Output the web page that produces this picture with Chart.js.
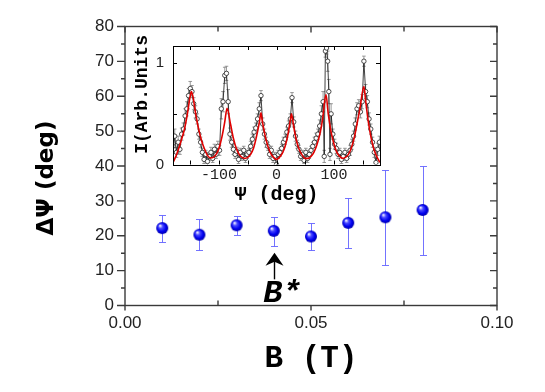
<!DOCTYPE html>
<html><head><meta charset="utf-8">
<script src="https://cdn.jsdelivr.net/npm/chart.js@4/dist/chart.umd.min.js"></script>
<style>
html,body{margin:0;padding:0;background:#fff;}
#wrap{position:relative;width:545px;height:392px;overflow:hidden;}
#wrap canvas{position:absolute;left:0;top:0;}
</style></head><body>
<div id="wrap"><canvas id="main" width="545" height="392"></canvas><canvas id="inset" width="545" height="392"></canvas></div>
<script>
// ---------- main chart data ----------
const fieldB = [0.01,0.02,0.03,0.04,0.05,0.06,0.07,0.08];
const deltaPsi = [22.2,20.3,23.0,21.4,19.8,23.7,25.3,27.4];
const deltaPsiUpper = [26.0,24.7,25.6,25.4,23.6,30.7,38.8,39.9];
const deltaPsiLower = [18.1,15.9,20.1,17.0,15.8,16.4,11.5,14.6];
const mainXTicks = [0,0.05,0.10];
const mainXTickLabels = ['0.00','0.05','0.10'];
const mainXMinor = [0.025,0.075];
const mainYTicks = [0,10,20,30,40,50,60,70,80];
const mainYTickLabels = ['0','10','20','30','40','50','60','70','80'];
const mainYMinor = [5,15,25,35,45,55,65,75];
// B* annotation (data coordinates)
const arrowB = 0.04, arrowFrom = 7.5, arrowTo = 15.1;
const starLabel = 'B*', starB = 0.0423, starY = 1.0;

// ---------- inset data ----------
const psi = [
 -180,-177,-174,-171,-168,-165,-162,-159,-156,-153,
 -150,-147,-144,-141,-138,-135,-132,-129,-126,-123,
 -120,-117,-114,-111,-108,-105,-102,-99,-96,-93,
 -90,-87,-84,-81,-78,-75,-72,-69,-66,-63,
 -60,-57,-54,-51,-48,-45,-42,-39,-36,-33,
 -30,-27,-24,-21,-18,-15,-12,-9,-6,-3,
 0,3,6,9,12,15,18,21,24,27,
 30,33,36,39,42,45,48,51,54,57,
 60,63,66,69,72,75,78,81,83,85,
 87,89,91,93,95,98,101,104,107,110,
 113,116,119,122,125,128,131,134,137,140,
 143,146,149,152,155,158,161,164,167,170,
 173,176,179];
const intensity = [
 0.18,0.28,0.12,0.22,0.15,0.30,0.35,0.48,0.55,0.68,
 0.75,0.72,0.60,0.52,0.45,0.30,0.22,0.12,0.05,0.10,
 0.03,0.08,0.12,0.06,0.15,0.10,0.18,0.14,0.55,0.62,
 0.88,0.90,0.62,0.30,0.22,0.15,0.10,0.13,0.05,0.12,
 0.08,0.14,0.06,0.10,0.12,0.18,0.25,0.32,0.36,0.45,
 0.55,0.68,0.40,0.30,0.22,0.18,0.10,0.14,0.06,0.08,
 0.00,0.10,0.12,0.16,0.22,0.25,0.32,0.38,0.45,0.66,
 0.42,0.28,0.20,0.15,0.08,0.10,0.04,0.12,0.06,0.10,
 0.14,0.18,0.22,0.26,0.30,0.38,0.50,0.62,0.08,1.12,
 1.15,1.02,0.72,0.10,0.50,0.30,0.20,0.16,0.10,0.12,
 0.05,0.08,0.12,0.06,0.10,0.14,0.20,0.28,0.40,0.55,
 0.58,0.52,0.62,1.02,0.72,0.62,0.45,0.35,0.22,0.12,
 0.02,0.15,0.22];
const intensityErr = [
 0.06,0.07,0.05,0.06,0.05,0.06,0.06,0.07,0.07,0.07,
 0.07,0.06,0.06,0.06,0.05,0.05,0.05,0.04,0.04,0.04,
 0.04,0.04,0.05,0.04,0.05,0.04,0.05,0.05,0.10,0.10,
 0.08,0.07,0.12,0.06,0.05,0.05,0.04,0.04,0.04,0.04,
 0.04,0.04,0.04,0.04,0.04,0.05,0.05,0.05,0.05,0.05,
 0.06,0.05,0.06,0.05,0.05,0.04,0.04,0.04,0.04,0.04,
 0.02,0.04,0.04,0.04,0.05,0.05,0.05,0.05,0.05,0.05,
 0.05,0.05,0.04,0.04,0.04,0.04,0.03,0.04,0.04,0.04,
 0.04,0.04,0.05,0.05,0.05,0.06,0.08,0.10,0.06,0.06,
 0.06,0.10,0.12,0.06,0.10,0.05,0.05,0.05,0.04,0.04,
 0.04,0.04,0.04,0.04,0.04,0.05,0.05,0.05,0.06,0.06,
 0.06,0.06,0.07,0.05,0.07,0.06,0.06,0.05,0.05,0.05,
 0.04,0.06,0.06];
const fitPsi = [-180,-175,-170,-165,-160,-155,-150,-148,-145,-140,-135,-130,-125,-120,-115,-110,-105,-100,-95,-90,-86,-80,-75,-70,-65,-60,-55,-50,-45,-40,-35,-30,-27,-25,-20,-15,-10,-5,0,5,10,15,20,25,26,30,35,40,45,50,55,60,65,70,75,80,86,90,95,100,105,110,115,120,125,130,135,140,145,152,155,160,165,170,175,180];
const fitI = [0.02,0.08,0.16,0.25,0.35,0.50,0.68,0.72,0.66,0.48,0.34,0.23,0.15,0.09,0.065,0.07,0.10,0.16,0.27,0.42,0.555,0.40,0.26,0.16,0.10,0.07,0.06,0.07,0.10,0.16,0.27,0.41,0.51,0.44,0.29,0.18,0.11,0.07,0.05,0.07,0.11,0.18,0.30,0.47,0.50,0.37,0.23,0.14,0.09,0.06,0.06,0.08,0.12,0.19,0.29,0.44,0.69,0.50,0.32,0.20,0.12,0.08,0.06,0.07,0.10,0.16,0.26,0.40,0.55,0.77,0.63,0.41,0.25,0.14,0.07,0.02];
const insetXTicks = [-100,0,100];
const insetXTickLabels = ['-100','0','100'];
const insetXMinor = [-150,-50,50,150];
const insetYTicks = [0,1];
const insetYTickLabels = ['0','1'];
const insetYMinor = [0.5];

// ---------- helpers ----------
function sphere(r){
  const s = 2*r+2, c = document.createElement('canvas');
  c.width = c.height = s;
  const g = c.getContext('2d');
  const grd = g.createRadialGradient(s/2-r*0.38, s/2-r*0.42, r*0.08, s/2, s/2, r);
  grd.addColorStop(0, '#f2f2ff');
  grd.addColorStop(0.3, '#4a4aff');
  grd.addColorStop(0.7, '#0000f0');
  grd.addColorStop(1, '#0000aa');
  g.fillStyle = grd;
  g.beginPath(); g.arc(s/2, s/2, r, 0, Math.PI*2); g.fill();
  return c;
}

const mainErrorBars = {
  id: 'mainErrorBars',
  beforeDatasetsDraw(chart){
    const {ctx, scales:{x, y}} = chart;
    ctx.save();
    ctx.strokeStyle = 'rgba(100,100,255,0.9)';
    ctx.lineWidth = 1;
    fieldB.forEach((b, i) => {
      const px = Math.round(x.getPixelForValue(b)) + 0.5;
      const yt = Math.round(y.getPixelForValue(deltaPsiUpper[i])) + 0.5;
      const yb = Math.round(y.getPixelForValue(deltaPsiLower[i])) + 0.5;
      ctx.beginPath();
      ctx.moveTo(px, yt); ctx.lineTo(px, yb);
      ctx.moveTo(px-3.5, yt); ctx.lineTo(px+3.5, yt);
      ctx.moveTo(px-3.5, yb); ctx.lineTo(px+3.5, yb);
      ctx.stroke();
    });
    ctx.restore();
  }
};

const mainFrame = {
  id: 'mainFrame',
  afterDraw(chart){
    const {ctx, chartArea:a, scales:{x, y}} = chart;
    ctx.save();
    ctx.strokeStyle = '#3a3a3a';
    ctx.lineWidth = 1.4;
    ctx.strokeRect(a.left, a.top, a.right-a.left, a.bottom-a.top);
    ctx.beginPath();
    mainXTicks.forEach(v => {
      const px = x.getPixelForValue(v);
      ctx.moveTo(px, a.bottom+5); ctx.lineTo(px, a.bottom);
      ctx.moveTo(px, a.top); ctx.lineTo(px, a.top+6);
    });
    mainXMinor.forEach(v => {
      const px = x.getPixelForValue(v);
      ctx.moveTo(px, a.bottom); ctx.lineTo(px, a.bottom-5);
      ctx.moveTo(px, a.top); ctx.lineTo(px, a.top+5);
    });
    mainYTicks.forEach(v => {
      const py = y.getPixelForValue(v);
      ctx.moveTo(a.left-8, py); ctx.lineTo(a.left, py);
      ctx.moveTo(a.right, py); ctx.lineTo(a.right-7, py);
    });
    mainYMinor.forEach(v => {
      const py = y.getPixelForValue(v);
      ctx.moveTo(a.left-4, py); ctx.lineTo(a.left, py);
      ctx.moveTo(a.right, py); ctx.lineTo(a.right-4, py);
    });
    ctx.stroke();
    ctx.restore();
  }
};

const starAnnotation = {
  id: 'starAnnotation',
  afterDatasetsDraw(chart){
    const {ctx, scales:{x, y}} = chart;
    const px = Math.round(x.getPixelForValue(arrowB)) + 0.5;
    const yTip = y.getPixelForValue(arrowTo);
    const yTail = y.getPixelForValue(arrowFrom);
    ctx.save();
    ctx.strokeStyle = '#000'; ctx.lineWidth = 1.4;
    ctx.beginPath(); ctx.moveTo(px, yTail); ctx.lineTo(px, yTip+8); ctx.stroke();
    ctx.fillStyle = '#000';
    ctx.beginPath();
    ctx.moveTo(px, yTip);
    ctx.lineTo(px-9, yTip+13);
    ctx.lineTo(px, yTip+9);
    ctx.lineTo(px+9, yTip+13);
    ctx.closePath(); ctx.fill();
    ctx.font = 'italic bold 32px "Liberation Mono"';
    ctx.textAlign = 'center'; ctx.textBaseline = 'alphabetic';
    ctx.fillText(starLabel, x.getPixelForValue(starB), y.getPixelForValue(starY));
    ctx.restore();
  }
};

new Chart(document.getElementById('main'), {
  type: 'scatter',
  data: { datasets: [{
    data: fieldB.map((b, i) => ({x: b, y: deltaPsi[i]})),
    pointStyle: sphere(6),
    pointRadius: 6,
    showLine: false
  }]},
  options: {
    responsive: false, animation: false, devicePixelRatio: 1,
    layout: { padding: {left: 0, top: 26.5, right: 48, bottom: 0} },
    plugins: { legend: {display: false}, tooltip: {enabled: false} },
    scales: {
      x: {
        type: 'linear', min: 0, max: 0.1,
        afterFit: s => { s.height = 86.5; },
        afterBuildTicks: s => { s.ticks = mainXTicks.map(v => ({value: v})); },
        grid: {display: false, drawTicks: false}, border: {display: false},
        ticks: { font: {family: 'Liberation Sans', size: 17}, color: '#222', padding: 8,
                 maxRotation: 0, autoSkip: false,
                 callback: (v, i) => mainXTickLabels[i] },
        title: { display: true, text: 'B (T)', color: '#000',
                 font: {family: 'Liberation Mono', weight: 'bold', size: 31},
                 padding: {top: 0, bottom: 14} }
      },
      y: {
        type: 'linear', min: 0, max: 80,
        afterFit: s => { s.width = 125; },
        afterBuildTicks: s => { s.ticks = mainYTicks.map(v => ({value: v})); },
        grid: {display: false, drawTicks: false}, border: {display: false},
        ticks: { font: {family: 'Liberation Sans', size: 17}, color: '#222', padding: 11,
                 autoSkip: false, callback: (v, i) => mainYTickLabels[i] },
        title: { display: true, text: 'ΔΨ (deg)   ', color: '#000',
                 font: {family: 'DejaVu Sans', weight: 'bold', size: 23},
                 padding: {top: 33, bottom: 0} }
      }
    }
  },
  plugins: [mainErrorBars, starAnnotation, mainFrame]
});

// ---------- inset ----------
const insetBg = {
  id: 'insetBg',
  beforeDraw(chart){
    const {ctx, chartArea:a} = chart;
    ctx.save(); ctx.fillStyle = '#fff';
    ctx.fillRect(a.left, a.top, a.right-a.left, a.bottom-a.top);
    ctx.restore();
  }
};
const insetErrorBars = {
  id: 'insetErrorBars',
  beforeDatasetsDraw(chart){
    const {ctx, chartArea:a, scales:{x, y}} = chart;
    ctx.save();
    ctx.beginPath(); ctx.rect(a.left, a.top, a.right-a.left, a.bottom-a.top); ctx.clip();
    ctx.strokeStyle = '#808080'; ctx.lineWidth = 0.8;
    ctx.beginPath();
    psi.forEach((p, i) => {
      const px = x.getPixelForValue(p);
      const yt = y.getPixelForValue(intensity[i] + intensityErr[i]);
      const yb = y.getPixelForValue(intensity[i] - intensityErr[i]);
      ctx.moveTo(px, yt); ctx.lineTo(px, yb);
      ctx.moveTo(px-1.8, yt); ctx.lineTo(px+1.8, yt);
      ctx.moveTo(px-1.8, yb); ctx.lineTo(px+1.8, yb);
    });
    ctx.stroke();
    ctx.restore();
  }
};
const insetFrame = {
  id: 'insetFrame',
  afterDraw(chart){
    const {ctx, chartArea:a, scales:{x, y}} = chart;
    ctx.save();
    ctx.strokeStyle = '#000'; ctx.lineWidth = 1;
    ctx.strokeRect(Math.round(a.left)+0.5, Math.round(a.top)+0.5, Math.round(a.right-a.left), Math.round(a.bottom-a.top));
    ctx.beginPath();
    insetXTicks.concat(insetXMinor).forEach(v => {
      const px = Math.round(x.getPixelForValue(v)) + 0.5;
      ctx.moveTo(px, a.bottom); ctx.lineTo(px, a.bottom-4);
      ctx.moveTo(px, a.top); ctx.lineTo(px, a.top+4);
    });
    insetYTicks.concat(insetYMinor).forEach(v => {
      const py = Math.round(y.getPixelForValue(v)) + 0.5;
      ctx.moveTo(a.left, py); ctx.lineTo(a.left+4, py);
      ctx.moveTo(a.right, py); ctx.lineTo(a.right-4, py);
    });
    ctx.stroke();
    ctx.restore();
  }
};

new Chart(document.getElementById('inset'), {
  type: 'line',
  data: { datasets: [
    { data: fitPsi.map((p, i) => ({x: p, y: fitI[i]})),
      borderColor: '#e00000', borderWidth: 1.6, pointRadius: 0,
      cubicInterpolationMode: 'monotone', fill: false },
    { data: psi.map((p, i) => ({x: p, y: intensity[i]})),
      borderColor: '#111', borderWidth: 0.8, tension: 0,
      pointRadius: 2.2, pointBackgroundColor: '#fff', pointBorderColor: '#222',
      pointBorderWidth: 0.8, fill: false }
  ]},
  options: {
    responsive: false, animation: false, devicePixelRatio: 1,
    layout: { padding: {left: 120, top: 46, right: 165, bottom: 182.5} },
    plugins: { legend: {display: false}, tooltip: {enabled: false} },
    scales: {
      x: {
        type: 'linear', min: -180, max: 180,
        afterFit: s => { s.height = 45; },
        afterBuildTicks: s => { s.ticks = insetXTicks.map(v => ({value: v})); },
        grid: {display: false, drawTicks: false}, border: {display: false},
        ticks: { font: {family: 'Liberation Mono', size: 15}, color: '#222', padding: 2,
                 maxRotation: 0, autoSkip: false, callback: (v, i) => insetXTickLabels[i] },
        title: { display: true, text: 'Ψ (deg)', color: '#000',
                 font: {family: 'Liberation Mono', weight: 'bold', size: 20},
                 padding: {top: 0, bottom: 2.5} }
      },
      y: {
        type: 'linear', min: 0, max: 1.17,
        afterFit: s => { s.width = 53; },
        afterBuildTicks: s => { s.ticks = insetYTicks.map(v => ({value: v})); },
        grid: {display: false, drawTicks: false}, border: {display: false},
        ticks: { font: {family: 'Liberation Sans', size: 15}, color: '#222', padding: 9,
                 autoSkip: false, callback: (v, i) => insetYTickLabels[i] },
        title: { display: true, text: '  I(Arb.Units', color: '#000',
                 font: {family: 'Liberation Mono', weight: 'bold', size: 18},
                 padding: {top: 12, bottom: 0} }
      }
    }
  },
  plugins: [insetBg, insetErrorBars, insetFrame]
});
</script>
</body></html>
